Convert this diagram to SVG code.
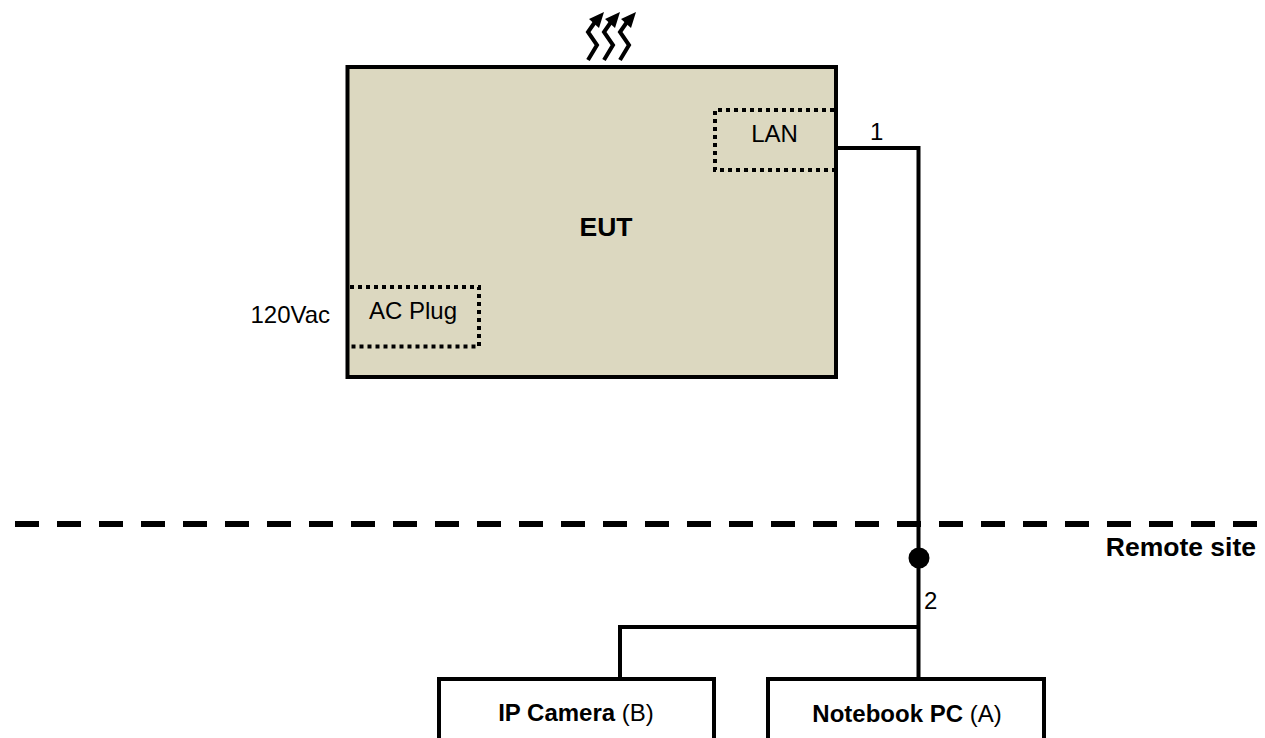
<svg xmlns="http://www.w3.org/2000/svg" width="1265" height="738" viewBox="0 0 1265 738">
<style>
text{font-family:"Liberation Sans",Arial,sans-serif;font-size:24px;fill:#000}
.b{font-weight:bold}
.big{font-size:26.500px}
.box{fill:#fff;stroke:#000;stroke-width:4}
.dot{fill:none;stroke:#000;stroke-width:4;stroke-dasharray:4 4}
.wire{fill:none;stroke:#000;stroke-width:4}
.sq{fill:none;stroke:#000;stroke-width:4}
</style>
<defs>
<g id="heat"><path class="sq" d="M588 60L597 45L588 32L595 22"/><path d="M604 12L589 19L599 28Z" fill="#000"/></g>
</defs>
<rect width="1265" height="738" fill="#fff"/>
<g id="heat-arrows"><use href="#heat"/><use href="#heat" x="16"/><use href="#heat" x="32"/></g>
<g id="eut">
<rect x="347.5" y="67" width="488.5" height="310" fill="#dcd8c0" stroke="#000" stroke-width="4"/>
<text x="606" y="236" class="b big" text-anchor="middle">EUT</text>
</g>
<g id="lan">
<path class="dot" d="M834 110H715V170H834"/>
<text x="774.500" y="142" text-anchor="middle">LAN</text>
</g>
<g id="ac-plug">
<path class="dot" d="M350 287H479V346.500H350"/>
<text x="413" y="319" text-anchor="middle">AC Plug</text>
</g>
<text id="vac" x="250.500" y="323">120Vac</text>
<g id="connectors">
<path class="wire" d="M836 148H918.500V679"/>
<path class="wire" d="M918.500 627H620V679"/>
<path d="M15 524H1258" fill="none" stroke="#000" stroke-width="6" stroke-dasharray="24 18"/>
<circle cx="919" cy="558" r="10.500" fill="#000"/>
</g>
<text id="label-1" x="870" y="140">1</text>
<text id="label-2" x="924" y="609">2</text>
<text id="remote" x="1256" y="556" class="b big" text-anchor="end">Remote site</text>
<g id="ip-camera">
<rect class="box" x="439" y="679" width="275" height="80"/>
<text x="576" y="721" text-anchor="middle"><tspan class="b">IP Camera</tspan> (B)</text>
</g>
<g id="notebook">
<rect class="box" x="768" y="679" width="276" height="80"/>
<text x="907" y="722" text-anchor="middle"><tspan class="b">Notebook PC</tspan> (A)</text>
</g>
</svg>
